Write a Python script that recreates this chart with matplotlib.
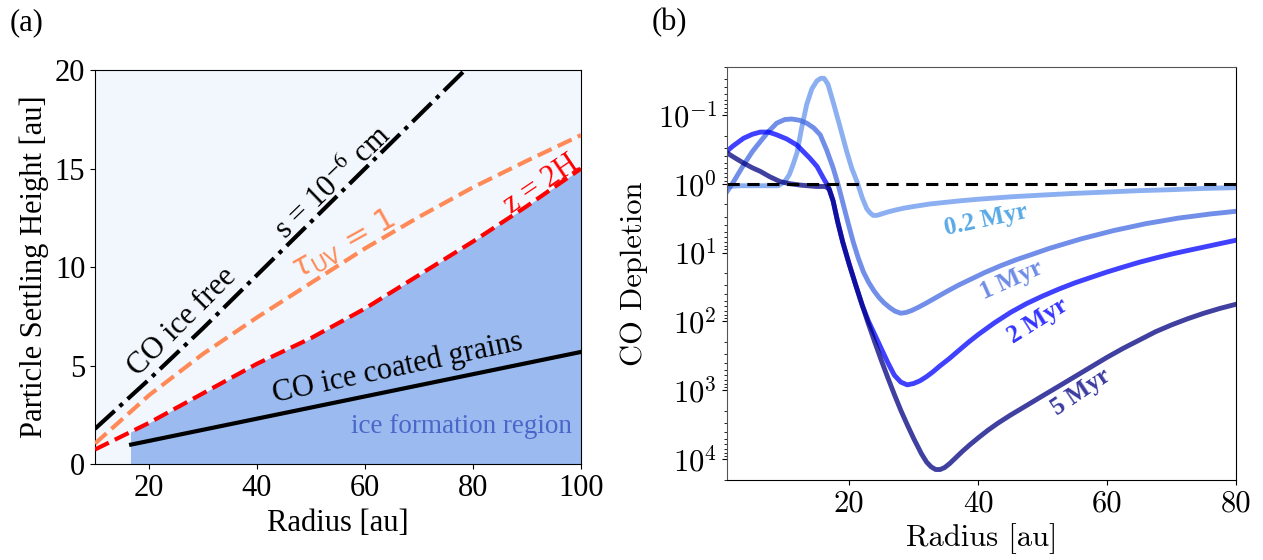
import matplotlib
matplotlib.use("Agg")
import matplotlib.pyplot as plt
from matplotlib.patches import Rectangle
from matplotlib.ticker import FuncFormatter, NullFormatter
import numpy as np

plt.rcParams['font.family'] = ['Liberation Serif', 'DejaVu Serif']
plt.rcParams['mathtext.fontset'] = 'cm'

# Panel (a): settling heights [au] vs radius [au]
r_free = [10, 20, 30, 40, 50, 60, 70, 80, 90, 100]
h_free = [1.8, 4.3, 6.9, 9.6, 12.3, 15.0, 17.7, 20.4, 23.1, 25.8]

r_tau = [10, 20, 30, 40, 50, 60, 70, 80, 90, 100]
h_tau = [1.05, 3.5, 5.6, 7.45, 9.2, 10.95, 12.55, 14.05, 15.4, 16.7]

r_2h = [10, 20, 30, 40, 50, 60, 70, 80, 90, 100]
h_2h = [0.75, 2.1, 3.6, 5.1, 6.4, 7.9, 9.6, 11.3, 13.1, 15.0]

r_coated = [16.7, 100]
h_coated = [1.0, 5.7]
r_ice_start = 16.7

# Panel (b): CO depletion vs radius for four ages
x_02 = [1, 3, 5, 7, 9, 10, 10.7, 11.3, 11.9, 12.6, 13.4, 14.2, 15.0, 15.6, 16.1,
        16.7, 17.5, 18.5, 19.6, 20.4, 21.2, 22.0, 22.7, 23.2, 23.7, 24.3, 25, 26,
        27, 28.5, 30, 32.5, 35, 37.5, 40, 45, 50, 55, 60, 65, 70, 75, 80]
d_02 = [1.10, 1.07, 1.07, 1.07, 1.07, 0.93, 0.74, 0.525, 0.355, 0.158, 0.071,
        0.042, 0.032, 0.0295, 0.0295, 0.036, 0.065, 0.141, 0.339, 0.60, 0.93,
        1.58, 2.29, 2.63, 2.88, 2.88, 2.75, 2.57, 2.43, 2.26, 2.14, 1.97, 1.86,
        1.76, 1.68, 1.55, 1.46, 1.38, 1.32, 1.26, 1.22, 1.17, 1.14]

x_1 = [1, 2, 3.6, 5, 6.2, 7.5, 8.75, 10, 11.1, 12.3, 13.4, 14.5, 15.5, 16.5,
       17.5, 18.3, 19.1, 19.85, 20.6, 21.4, 22.2, 23.0, 23.8, 24.6, 25.4, 26.3,
       27.1, 28.0, 28.8, 29.7, 30.8, 32, 33.5, 35, 37, 39, 41, 43.5, 46, 48.5,
       51, 53.5, 56, 58.5, 61, 63.5, 66, 68.5, 71, 73.5, 76, 78, 80]
d_1 = [1.32, 0.955, 0.537, 0.339, 0.245, 0.174, 0.132, 0.117, 0.115, 0.120,
       0.132, 0.155, 0.195, 0.324, 0.589, 1.05, 2.04, 3.80, 6.92, 12.0, 19.1,
       26.9, 35.5, 44.7, 53.7, 63.1, 70.8, 75.9, 74.1, 69.2, 61.7, 53.7, 44.7,
       37.2, 29.5, 24.0, 19.5, 15.5, 12.6, 10.5, 8.71, 7.41, 6.31, 5.50, 4.79,
       4.27, 3.80, 3.47, 3.16, 2.95, 2.75, 2.63, 2.51]

x_2 = [1, 2, 3.6, 5, 6.2, 7.5, 8.75, 10.3, 11.9, 13.9, 15.0, 16.0, 16.75, 17.5,
       18.2, 19.0, 20.0, 21.0, 22.0, 23.0, 24.0, 25.0, 26.0, 27.0, 28.0, 29.0,
       30.0, 31.0, 32.0, 33.0, 34.0, 35.5, 37.0, 38.5, 40, 42.5, 45, 47.5, 50,
       52.5, 55, 57.5, 60, 62.5, 65, 67.5, 70, 72.5, 75, 77.5, 80]
d_2 = [0.339, 0.282, 0.219, 0.191, 0.178, 0.178, 0.195, 0.224, 0.275, 0.427,
       0.562, 0.832, 1.10, 1.78, 3.55, 7.08, 14.8, 29.5, 57.5, 100, 158, 251,
       398, 603, 759, 832, 794, 724, 631, 537, 447, 347, 263, 200, 155, 105,
       74.1, 55.0, 42.7, 33.9, 27.5, 22.9, 19.1, 16.2, 13.8, 12.0, 10.5, 9.33,
       8.32, 7.41, 6.61]

x_5 = [1, 2, 3.6, 5, 6.2, 7.7, 9.3, 10.8, 12.4, 14.9, 16.3, 16.9, 17.5, 18.2,
       19.0, 20.0, 21.0, 22.0, 23.0, 24.0, 25.0, 26.0, 27.0, 28.0, 29.0, 30.0,
       31.2, 32.0, 32.7, 33.4, 34.1, 34.8, 35.6, 36.5, 37.5, 38.7, 40, 41.5, 43,
       45, 47.5, 50, 52.5, 55, 57.5, 60, 62.5, 65, 67.5, 70, 72.5, 75, 77.5, 80]
d_5 = [0.355, 0.407, 0.501, 0.589, 0.661, 0.794, 0.933, 1.0, 1.047, 1.096,
       1.096, 1.20, 1.78, 3.55, 7.08, 14.8, 29.5, 57.5, 110, 204, 372, 661,
       1150, 1950, 3160, 5010, 8320, 11000, 12900, 14100, 14100, 13200, 11500,
       9550, 7760, 6170, 4900, 3800, 3020, 2290, 1660, 1200, 871, 631, 457, 331,
       245, 186, 141, 112, 91.2, 75.9, 64.6, 56.2]

ages = ["0.2 Myr", "1 Myr", "2 Myr", "5 Myr"]
line_colors = ["cornflowerblue", "royalblue", "blue", "navy"]
text_colors = ["#5aaae6", "#6f8ce6", "#3434ff", "#3c3ca0"]
label_x = [41.2, 45.2, 49.3, 55.9]
label_y = [3.36, 25.0, 98.0, 1070.0]
label_rot = [12, 24, 32, 34]

fig = plt.figure(figsize=(12.63, 5.6), dpi=100)

# Panel (a)
ax1 = fig.add_axes([0.0752, 0.1709, 0.3848, 0.704])
ax1.set_facecolor("#f2f7fd")

# ice formation region: below z = 2H, outside the inner radius
fill = ax1.fill_between(r_2h, 0, h_2h, color="#9bbbf0", lw=0, zorder=1)
fill.set_clip_path(Rectangle((r_ice_start, 0), 200, 40, transform=ax1.transData))

ax1.plot(r_free, h_free, color="black", ls="-.", lw=3, zorder=3)
ax1.plot(r_tau, h_tau, color="#ff8a57", ls="--", lw=3, zorder=3)
ax1.plot(r_2h, h_2h, color="red", ls="--", lw=3, zorder=3)
ax1.plot(r_coated, h_coated, color="black", lw=3, zorder=3)

ax1.text(26.1, 7.2, "CO ice free", rotation=45, fontsize=22,
         ha="center", va="center")
ax1.text(54.0, 14.3, r"s = 10$^{-6}$ cm", rotation=44, fontsize=22,
         ha="center", va="center", math_fontfamily="stix")
ax1.text(56.0, 11.1, r"$\tau_{\rm UV}$ = 1", rotation=29, fontsize=22,
         color="#ff8a57", ha="center", va="center",
         family="DejaVu Sans", math_fontfamily="dejavusans")
ax1.text(92.6, 14.2, "z = 2H", rotation=34, fontsize=22, color="red",
         ha="center", va="center")
ax1.text(66.1, 4.9, "CO ice coated grains", rotation=12, fontsize=22,
         ha="center", va="center")
ax1.text(77.8, 1.9, "ice formation region", fontsize=19.5, color="#4b66c9",
         ha="center", va="center")

ax1.set_xlim(10, 100)
ax1.set_ylim(0, 20)
ax1.set_xticks([20, 40, 60, 80, 100])
ax1.set_yticks([0, 5, 10, 15, 20])
ax1.tick_params(labelsize=22)
ax1.set_xlabel("Radius [au]", fontsize=22)
ax1.set_ylabel("Particle Settling Height [au]", fontsize=22)

# Panel (b)
ax2 = fig.add_axes([0.5754, 0.1429, 0.4033, 0.738])
series_x = [x_02, x_1, x_2, x_5]
series_d = [d_02, d_1, d_2, d_5]
for i in range(4):
    ax2.plot(series_x[i], series_d[i], color=line_colors[i], lw=3.5, alpha=0.75)
    ax2.text(label_x[i], label_y[i], ages[i], rotation=label_rot[i],
             fontsize=18, fontweight="bold", color=text_colors[i],
             ha="center", va="center")
ax2.axhline(1.0, color="black", ls="--", lw=2.2, dashes=(4, 2.5))

ax2.set_yscale("log")
ax2.set_xlim(1, 80)
ax2.set_ylim(2.0e4, 0.02)
ax2.set_xticks([20, 40, 60, 80])
ax2.yaxis.set_major_formatter(FuncFormatter(lambda v, p: r"$10^{%d}$" % round(np.log10(v))))
ax2.yaxis.set_minor_formatter(NullFormatter())
ax2.tick_params(labelsize=22)
ax2.tick_params(axis="x", labelfontfamily="cmr10")
ax2.set_xlabel("Radius [au]", fontsize=22, fontfamily="cmr10")
ax2.set_ylabel("CO Depletion", fontsize=22, fontfamily="cmr10")
ax2.yaxis.set_label_coords(-0.155, 0.5)
for side in ["top", "left"]:
    ax2.spines[side].set_color("#555555")

fig.text(0.008, 0.96, "(a)", fontsize=22, va="center")
fig.text(0.516, 0.96, "(b)", fontsize=22, va="center")

fig.savefig("out.png", dpi=100)
